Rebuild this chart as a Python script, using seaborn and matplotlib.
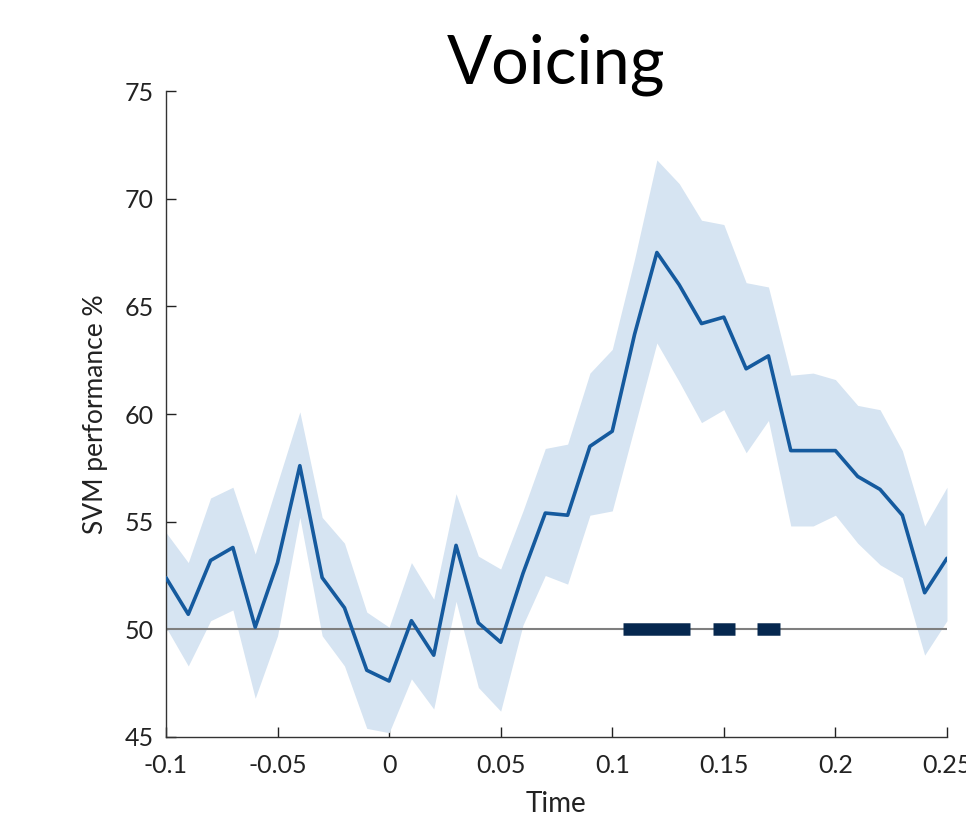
import numpy as np
import pandas as pd
import seaborn as sns
import matplotlib
matplotlib.use("Agg")
import matplotlib.pyplot as plt

# time axis (s) and SVM decoding accuracy with its error band
time = np.round(np.arange(-0.10, 0.2501, 0.01), 2)
perf = [52.4, 50.7, 53.2, 53.8, 50.1, 53.1, 57.6, 52.4, 51.0, 48.1,
        47.6, 50.4, 48.8, 53.9, 50.3, 49.4, 52.6, 55.4, 55.3, 58.5,
        59.2, 63.7, 67.5, 66.0, 64.2, 64.5, 62.1, 62.7, 58.3, 58.3,
        58.3, 57.1, 56.5, 55.3, 51.7, 53.3]
upper = [54.5, 53.1, 56.1, 56.6, 53.5, 56.8, 60.1, 55.2, 54.0, 50.8,
         50.1, 53.1, 51.4, 56.3, 53.4, 52.8, 55.5, 58.4, 58.6, 61.9,
         63.0, 67.2, 71.8, 70.7, 69.0, 68.8, 66.1, 65.9, 61.8, 61.9,
         61.6, 60.4, 60.2, 58.3, 54.8, 56.6]
lower = [50.1, 48.3, 50.4, 50.9, 46.8, 49.7, 55.2, 49.7, 48.3, 45.4,
         45.2, 47.7, 46.3, 51.3, 47.3, 46.2, 50.2, 52.5, 52.1, 55.3,
         55.5, 59.4, 63.3, 61.5, 59.6, 60.2, 58.2, 59.7, 54.8, 54.8,
         55.3, 54.0, 53.0, 52.4, 48.8, 50.4]
# significant clusters (start, end)
sig_spans = [(0.105, 0.135), (0.145, 0.155), (0.165, 0.175)]
chance = 50

df = pd.DataFrame({"Time": time, "perf": perf})

sns.set_style("ticks")
plt.rcParams["font.family"] = ["Lato", "DejaVu Sans"]

fig = plt.figure(figsize=(9.66, 8.23), dpi=100)
ax = fig.add_axes([0.1718, 0.1045, 0.8085, 0.7849])

ax.fill_between(time, lower, upper, color="#d6e4f2", linewidth=0, zorder=1)
ax.axhline(chance, color="#7f7f7f", linewidth=1.5, zorder=2)
sns.lineplot(data=df, x="Time", y="perf", color="#155a9e", linewidth=2.6,
             ax=ax, zorder=3)
for s, e in sig_spans:
    ax.plot([s, e], [chance, chance], color="#06284f", linewidth=9,
            solid_capstyle="butt", zorder=4)

ax.set_xlim(-0.1, 0.25)
ax.set_ylim(45, 75)
ax.set_xticks([-0.1, -0.05, 0, 0.05, 0.1, 0.15, 0.2, 0.25])
ax.set_xticklabels(["-0.1", "-0.05", "0", "0.05", "0.1", "0.15", "0.2", "0.25"])
ax.set_yticks(range(45, 76, 5))
ax.tick_params(direction="in", length=7, width=1, labelsize=18,
               colors="#222222")
ax.tick_params(axis="x", pad=12)
ax.tick_params(axis="y", pad=9)
for side in ["top", "right"]:
    ax.spines[side].set_visible(False)
for side in ["left", "bottom"]:
    ax.spines[side].set_color("#333333")
    ax.spines[side].set_linewidth(1)

ax.set_xlabel("Time", fontsize=20, color="#222222", labelpad=10)
ax.set_ylabel("SVM performance %", fontsize=19, color="#222222", labelpad=12)
fig.text(0.576, 0.921, "Voicing", fontsize=48, color="black",
         ha="center", va="center")

fig.savefig("out.png", dpi=100)
